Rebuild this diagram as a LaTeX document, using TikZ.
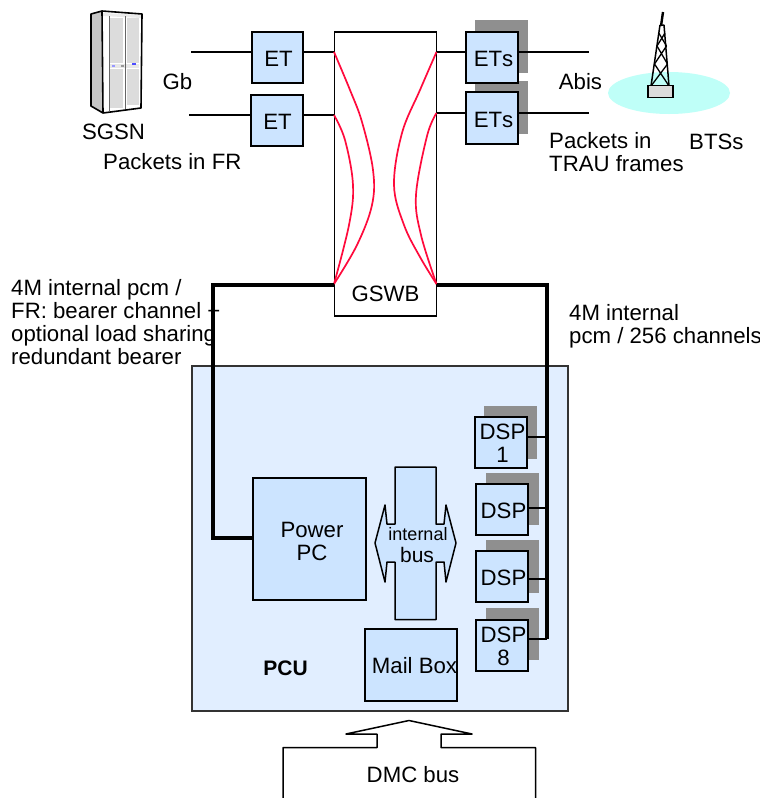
\documentclass[tikz,border=0pt]{standalone}
\usepackage{fontspec}
\usetikzlibrary{shapes.geometric}
\setmainfont[Kerning=Off]{Liberation Sans}
\definecolor{boxblue}{HTML}{CCE4FF}
\definecolor{pcublue}{HTML}{E1EEFF}
\definecolor{shadowgrey}{HTML}{8F8F8F}
\definecolor{cellcyan}{HTML}{BFFFF8}
\definecolor{wirered}{HTML}{FF0A3C}
\definecolor{panelgrey}{HTML}{DCDCDC}
\definecolor{sidegrey}{HTML}{C6C6C6}
\tikzset{
  txt/.style={inner sep=0pt,font=\fontsize{22.2}{23}\selectfont,align=left},
  bluebox/.style={draw=black,line width=1.5pt,fill=boxblue,inner sep=0pt},
  boxtext/.style={inner sep=0pt,font=\fontsize{22.2}{23}\selectfont,align=center,fill=none,draw=none},
  shade box/.style={fill=shadowgrey,inner sep=0pt,draw=none},
  wire/.style={draw=black,line width=1.5pt},
  thickwire/.style={draw=black,line width=3.6pt,line join=miter},
  redwire/.style={draw=wirered,line width=1.7pt},
  outline/.style={draw=black,line width=1.5pt,line join=round}
}
\begin{document}
\begin{tikzpicture}[x=1pt,y=-1pt]
\clip (0,0) rectangle (760,798);
\fill[white] (0,0) rectangle (760,798);
% PCU
\node[draw=black!80,line width=1.2pt,fill=pcublue,minimum width=376pt,minimum height=345pt,inner sep=0pt] (pcu) at (380,538.5) {};
% shadows
\node[shade box,minimum width=53pt,minimum height=53pt] (s1) at (501.5,46.5) {};
\node[shade box,minimum width=53pt,minimum height=53pt] (s2) at (501.5,107.5) {};
\node[shade box,minimum width=53pt,minimum height=53pt] (d1s) at (510.5,432.5) {};
\node[shade box,minimum width=53pt,minimum height=52pt] (d2s) at (512.5,499) {};
\node[shade box,minimum width=53pt,minimum height=53pt] (d3s) at (512.5,566.5) {};
\node[shade box,minimum width=53pt,minimum height=52pt] (d8s) at (512.5,634) {};
% GSWB
\node[draw=black,line width=1.5pt,fill=white,minimum width=102pt,minimum height=284pt,inner sep=0pt] (gswb) at (385.5,174) {};
\node[txt] (gswbt) at (385.5,294) {GSWB};
% ET boxes
\node[bluebox,minimum width=51pt,minimum height=51pt,label={[boxtext,xshift=1pt,yshift=-1pt]center:ET}] (et1) at (277.5,57.5) {};
\node[bluebox,minimum width=52pt,minimum height=51pt,label={[boxtext,xshift=0.5pt,yshift=-1pt]center:ET}] (et2) at (277,120.5) {};
\node[bluebox,minimum width=52pt,minimum height=51pt,label={[boxtext,xshift=1.5pt,yshift=-1pt]center:ETs}] (ets1) at (492,57.5) {};
\node[bluebox,minimum width=52pt,minimum height=52pt,label={[boxtext,xshift=1.5pt,yshift=-1.5pt]center:ETs}] (ets2) at (492,118) {};
% upper wires
\coordinate (g1) at (191,52);
\coordinate (g2) at (189,115);
\coordinate (a1) at (589,52);
\coordinate (a2) at (589,113);
\draw[wire] (g1) -- (g1 -| et1.west);
\draw[wire] (g1 -| et1.east) -- (g1 -| gswb.west);
\draw[wire] (g2) -- (g2 -| et2.west);
\draw[wire] (g2 -| et2.east) -- (g2 -| gswb.west);
\draw[wire] (a1 -| gswb.east) -- (a1 -| ets1.west);
\draw[wire] (a1 -| ets1.east) -- (a1);
\draw[wire] (a2 -| gswb.east) -- (a2 -| ets2.west);
\draw[wire] (a2 -| ets2.east) -- (a2);
% red connections
\coordinate (lo) at (334,284);
\coordinate (ro) at (436.5,284);
\draw[redwire] plot[smooth,tension=0.6] coordinates {(334,52) (350,90) (362,122) (373,170) (372,205) (357,245) (lo)};
\draw[redwire] plot[smooth,tension=0.6] coordinates {(334,115) (345,140) (353,185) (349,225) (lo)};
\draw[redwire] plot[smooth,tension=0.6] coordinates {(436.5,52) (420,90) (402,133) (394,185) (404,225) (420,257) (ro)};
\draw[redwire] plot[smooth,tension=0.6] coordinates {(436.5,113) (427,136) (416,195) (421,235) (ro)};
% central blocks
\node[bluebox,minimum width=113pt,minimum height=122pt,label={[boxtext,xshift=2.5pt,yshift=-2pt]center:Power\\PC}] (ppc) at (309.5,539) {};
\node[bluebox,minimum width=92pt,minimum height=72pt,label={[boxtext,xshift=3.5pt,yshift=-1pt]center:Mail Box}] (mail) at (411,665) {};
\node[bluebox,minimum width=52pt,minimum height=51pt,label={[boxtext,xshift=1.5pt,yshift=-1pt]center:DSP\\1}] (dsp1) at (501,442.5) {};
\node[bluebox,minimum width=52pt,minimum height=51pt,label={[boxtext,xshift=1.5pt,yshift=-1.5pt]center:DSP}] (dsp2) at (502,509.5) {};
\node[bluebox,minimum width=52pt,minimum height=51pt,label={[boxtext,xshift=1.5pt,yshift=-1pt]center:DSP}] (dsp3) at (502,576.5) {};
\node[bluebox,minimum width=52pt,minimum height=51pt,label={[boxtext,xshift=1.5pt,yshift=-1pt]center:DSP\\8}] (dsp8) at (502,645.5) {};
% internal bus
\draw[outline,fill=boxblue] (395,467) -- (436,467) -- (436,524) -- (444,524) -- (446,505) -- (456,543) -- (446,582) -- (444,562) -- (436,562) -- (436,619.5) -- (395,619.5) -- (395,562) -- (387,562) -- (385,582) -- (375,543) -- (385,505) -- (387,524) -- (395,524) -- cycle;
\node[inner sep=0pt,font=\fontsize{18}{18}\selectfont] (ibus1) at (418,534) {internal};
\node[inner sep=0pt,font=\fontsize{21}{21}\selectfont] (ibus2) at (417,555) {bus};
% thick buses
\coordinate (tl) at (213,285);
\coordinate (bl) at (213,538);
\coordinate (tr) at (547,285);
\coordinate (br) at (547,639);
\draw[thickwire] (gswb.west |- tl) -- (tl) -- (bl) -- (bl -| ppc.west);
\draw[thickwire] (gswb.east |- tr) -- (tr) -- (br);
% DSP taps
\coordinate (t1) at (547,437);
\coordinate (t2) at (547,508);
\coordinate (t3) at (547,579);
\coordinate (t8) at (547,639);
\draw[wire] (t1 -| dsp1.east) -- (t1);
\draw[wire] (t2 -| dsp2.east) -- (t2);
\draw[wire] (t3 -| dsp3.east) -- (t3);
\draw[wire] (t8 -| dsp8.east) -- (t8);
% DMC bus
\draw[outline,fill=white] (283,799) -- (283,747.5) -- (377,747.5) -- (377,734) -- (346,734) -- (409,720.5) -- (472,734) -- (441,734) -- (441,747.5) -- (535.5,747.5) -- (535.5,799);
\node[txt] (dmc) at (413,774.5) {DMC bus};
% SGSN cabinet
\fill[white] (102,11) -- (142,14) -- (141,108) -- (103,113) -- cycle;
\fill[sidegrey] (91,14) -- (102,11) -- (103,113) -- (91,106) -- cycle;
\fill[panelgrey] (110,18) rectangle (123,63);
\fill[panelgrey] (110,69) rectangle (123,108);
\fill[panelgrey] (127,18) rectangle (139,63);
\fill[panelgrey] (127,69) rectangle (139,105);
\fill[panelgrey!60] (103,13) -- (141,15) -- (141,18) -- (103,16) -- cycle;
\fill[panelgrey!70] (109,64) rectangle (139,68);
\draw[black!60,line width=0.8pt] (109,16) -- (109,111);
\draw[black!60,line width=0.8pt] (125,16) -- (125,109);
\fill[blue!70] (132,63) rectangle (136,65);
\fill[blue!40] (112,65) rectangle (115,66.5);
\fill[black!40] (121,64.5) rectangle (123.5,67);
\draw[outline,line width=1.6pt,line join=round] (91,14) -- (102,11) -- (142,14) -- (141,108) -- (103,113) -- (91,106) -- cycle;
\draw[outline,line width=1.6pt] (102,11) -- (103,113);
% BTS
\node[ellipse,fill=cellcyan,inner sep=0pt,minimum width=122pt,minimum height=42pt] (cell) at (669,93) {};
\draw[black,line width=1.5pt,line join=round] (660,25) -- (651,86) (664,25) -- (669,86) (660,25) -- (664,25);
\draw[black,line width=1.3pt] (658.8,33) -- (666.5,46) (665,33) -- (657,46) (657,46) -- (667.5,64) (666.5,46) -- (654.5,64) (654.5,64) -- (669,86) (667.5,64) -- (651,86);
\draw[black,line width=2.4pt] (661,26) -- (663,12);
\node[draw=black,line width=1.5pt,fill=panelgrey,inner sep=0pt,minimum width=25pt,minimum height=12pt] (tower) at (660.5,91.5) {};
% labels
\node[txt] (lsgsn) at (113.5,132) {SGSN};
\node[txt] (lgb) at (177.5,82) {Gb};
\node[txt,anchor=west] (lfr) at (103,161.5) {Packets in FR};
\node[txt] (labis) at (580.5,81.5) {Abis};
\node[txt,anchor=north west] (ltrau) at (549,132.5) {Packets in\\TRAU frames};
\node[txt,anchor=west] (lbts) at (689,141.5) {BTSs};
\node[txt,anchor=north west] (l4ml) at (11,279.5) {4M internal pcm /\\[0pt]FR: bearer channel +\\optional load sharing\\redundant bearer};
\node[txt,anchor=north west] (l4mr) at (569,304.5) {4M internal\\pcm / 256 channels};
\node[inner sep=0pt,font=\bfseries\fontsize{21}{21}\selectfont] (lpcu) at (285.5,668) {PCU};
\end{tikzpicture}
\end{document}
